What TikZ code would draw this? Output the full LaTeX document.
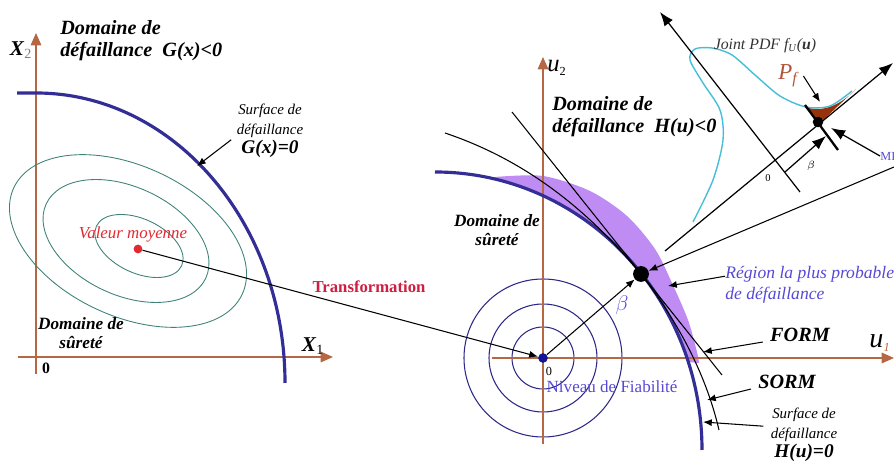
\documentclass[tikz,border=0pt]{standalone}
\usepackage{fontspec}
\setmainfont{Liberation Serif}
\usetikzlibrary{positioning,arrows,arrows.meta}

\definecolor{axiscol}{RGB}{182,104,68}
\definecolor{limitcol}{RGB}{50,46,150}
\definecolor{isocol}{RGB}{62,130,120}
\definecolor{circcol}{RGB}{45,40,135}
\definecolor{origincol}{RGB}{20,20,150}
\definecolor{regioncol}{RGB}{190,140,242}
\definecolor{pdfcol}{RGB}{70,190,215}
\definecolor{pfcol}{RGB}{150,50,12}
\definecolor{pflabel}{RGB}{176,84,56}
\definecolor{meancol}{RGB}{226,40,48}
\definecolor{transcol}{RGB}{206,30,66}
\definecolor{textblue}{RGB}{86,72,215}

\tikzset{axis line/.style={draw=axiscol,line width=0.8pt,-{Triangle[length=7pt,width=6pt]}}}
\tikzset{limit line/.style={draw=limitcol,line width=1.8pt}}
\tikzset{iso line/.style={draw=isocol,line width=0.5pt}}
\tikzset{circ line/.style={draw=circcol,line width=0.6pt}}
\tikzset{thin line/.style={draw=black,line width=0.6pt}}
\tikzset{pointer/.style={draw=black,line width=0.6pt,-{Latex[length=5pt,width=4pt]}}}
\tikzset{big pointer/.style={draw=black,line width=0.7pt,-{Latex[length=8pt,width=6pt]}}}
\tikzset{dom label/.style={font=\fontsize{11.5}{12.5}\selectfont\bfseries\itshape,align=left,inner sep=0pt}}
\tikzset{safe label/.style={font=\fontsize{9.8}{11}\selectfont\bfseries\itshape,align=center,inner sep=0pt}}
\tikzset{surf label/.style={font=\fontsize{8.5}{11}\selectfont\itshape,align=center,inner sep=0pt}}
\tikzset{form label/.style={font=\fontsize{11.5}{13}\selectfont\bfseries\itshape,inner sep=0pt}}
\tikzset{blue label/.style={text=textblue,font=\fontsize{10}{12}\selectfont\itshape,align=left,inner sep=0pt}}
\tikzset{dot node/.style={circle,fill=black,inner sep=0pt}}

\begin{document}
\begin{tikzpicture}[x=0.02cm,y=-0.02cm]
\useasboundingbox (0,0) rectangle (894,465);

% ---------------- physical space
\draw[axis line] (36,374) -- (36,33);
\draw[axis line] (18,357) -- (333,357);
\node[inner sep=0pt] (x2) at (21,50) {\fontsize{12}{12}\selectfont\textbf{\textit{X}}\textsubscript{\textcolor{gray}{2}}};
\node[inner sep=0pt] (x1) at (313,346) {\fontsize{12}{12}\selectfont\textbf{\textit{X}}\textsubscript{1}};
\node[inner sep=0pt] (zeroX) at (46,368) {\fontsize{9}{9}\selectfont\textbf{0}};

% iso-probability contours
\foreach \cx/\cy/\a/\b in {139/246/47/27, 126/241/88/54, 128/241/126/75}{
    \draw[iso line, shift={(\cx,\cy)}, rotate=-25] (0,0) ellipse [x radius=\a, y radius=\b];
}

% limit state G(x)=0
\draw[limit line] (17,93) -- (36,93) arc[start angle=-90, end angle=0, x radius=249, y radius=290];
\coordinate (gpt) at (197,166);

\node[dom label, anchor=west] (gfail) at (60,41) {Domaine de\\d\'efaillance\ \ G(x)<0};
\node[safe label] (gsafe) at (81,333) {Domaine de\\s\^uret\'e};
\node[surf label] (gsurf) at (270,131) {Surface de\\d\'efaillance\\\textbf{\fontsize{11}{11}\selectfont G(x)=0}};
\draw[pointer] ([xshift=-3pt,yshift=-5pt]gsurf.west) -- (gpt);

\node[dot node, fill=meancol, minimum size=5pt] (mean) at (138,249) {};
\node[text=meancol, font=\fontsize{9.6}{10}\selectfont\itshape, inner sep=0pt] (meanlab) at (133,234) {Valeur moyenne};

% ---------------- standard space
\fill[regioncol] plot[smooth] coordinates {(495,177) (543,176) (590,191) (627,216) (655,249) (672,283) (688,320) (697,352) (699,363)}
    -- (688,362) arc[start angle=-18.45, end angle=-77.45, x radius=267, y radius=278] -- cycle;

\foreach \r in {31,54,79}{
    \draw[circ line] (543,358) circle (\r);
}

\draw[axis line] (543,444) -- (543,57);
\draw[axis line] (492,358) -- (894,358);
\node[inner sep=0pt] (u2) at (557,68) {\fontsize{14}{14}\selectfont\textit{u}\textsubscript{\fontsize{7}{7}\selectfont 2}};
\node[inner sep=0pt] (u1) at (880,343) {\fontsize{16}{16}\selectfont\textit{u}\textsubscript{\textcolor{axiscol}{\fontsize{7}{7}\selectfont\itshape 1}}};

% limit state H(u)=0 with FORM and SORM
\draw[limit line] (435,172) arc[start angle=-90, end angle=0, x radius=267, y radius=278];
\draw[thin line] (512,112) -- (722,375);
\draw[thin line] (445,133) .. controls (540,165) and (600,225) .. (641,274)
    .. controls (675,318) and (705,370) .. (719,430);

\node[dot node, fill=origincol, minimum size=5.5pt] (origin) at (543,358) {};
\node[inner sep=0pt] (zeroU) at (549,371) {\fontsize{7}{7}\selectfont 0};
\node[dot node, minimum size=9pt] (design) at (641,274) {};
\draw[pointer] (mean) -- (origin);
\draw[pointer] (origin) -- (design);
\node[text=textblue, inner sep=0pt] (beta) at (622,305) {\fontsize{13}{13}\selectfont$\beta$};

\node[text=transcol, font=\fontsize{9.5}{10}\selectfont\bfseries, inner sep=0pt] (trans) at (369,287) {Transformation};
\node[text=textblue, font=\fontsize{9.7}{10}\selectfont, inner sep=0pt] (niveau) at (612,387) {Niveau de Fiabilit\'e};

\node[dom label, anchor=west] (hfail) at (552,117) {Domaine de\\d\'efaillance\ \ H(u)<0};
\node[safe label] (hsafe) at (497,230) {Domaine de\\s\^uret\'e};

\node[blue label, anchor=west] (region) at (725,285) {R\'egion la plus probable\\de d\'efaillance};
\coordinate (regpt) at (668,286);
\draw[pointer] ([yshift=5pt]region.west) -- (regpt);

\node[form label] (form) at (800,335) {FORM};
\coordinate (formpt) at (703,352);
\draw[pointer] ([xshift=-4pt,yshift=-4pt]form.west) -- (formpt);

\node[form label] (sorm) at (787,382) {SORM};
\coordinate (sormpt) at (707,400);
\draw[pointer] ([xshift=-4pt,yshift=-4pt]sorm.west) -- (sormpt);

\node[surf label] (hsurf) at (804,435) {Surface de\\d\'efaillance\\\textbf{\fontsize{11}{11}\selectfont H(u)=0}};
\coordinate (hpt) at (703,422);
\draw[pointer] ([xshift=-4pt,yshift=5pt]hsurf.west) -- (hpt);

% ---------------- inset with joint PDF
\fill[pfcol] (804,106) .. controls (818,113) and (838,108) .. (856,89) -- (819,124) -- cycle;
\draw[pdfcol, line width=0.8pt] plot[smooth] coordinates {(693,222) (713,180) (723,140) (720,110) (703,83) (690,60) (695,49) (712,48) (732,55) (755,75) (780,96) (806,107) (830,106) (852,91)};

\draw[big pointer] (800,192) -- (660,12);
\draw[big pointer] (665,251) -- (893,63);
\draw[pointer] (894,167) -- (design);
\draw[black, line width=1.3pt] (805,105) -- (838,150);
\node[dot node, minimum size=6pt] (mpp) at (818,122) {};

\coordinate (ibeta) at (785,172);
\coordinate (ibetapt) at (826,136);
\draw[big pointer] (ibeta) -- (ibetapt);
\node[inner sep=0pt] (izero) at (768,178) {\fontsize{6}{6}\selectfont 0};
\node[inner sep=0pt] (ibetalab) at (811,166) {\fontsize{6}{6}\selectfont$\beta$};

\node[text=textblue, anchor=west, inner sep=0pt] (mi) at (880,156) {\fontsize{7}{7}\selectfont MI};
\coordinate (mipt) at (831,128);
\draw[big pointer] (mi.west) -- (mipt);

\node[text=black!80, font=\fontsize{9}{10}\selectfont\itshape, inner sep=0pt] (pdf) at (765,46) {Joint PDF f\textsubscript{U}(\textbf{u})};
\node[text=pflabel, inner sep=0pt] (pf) at (789,76) {\fontsize{13}{13}\selectfont\textit{P}\textsubscript{\textit{f}}};
\coordinate (pfpt) at (820,102);
\draw[pointer] ([xshift=2pt]pf.east) -- (pfpt);
\end{tikzpicture}
\end{document}
